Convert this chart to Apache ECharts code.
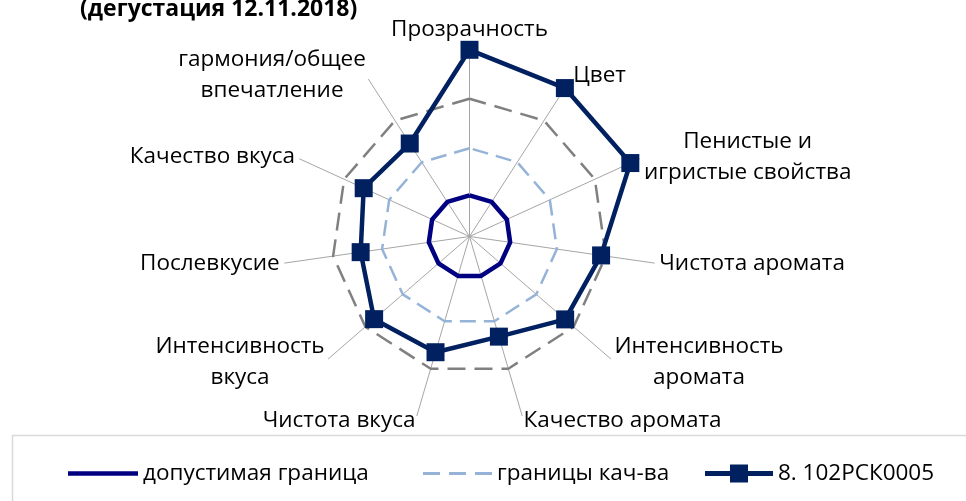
<!DOCTYPE html>
<html><head><meta charset="utf-8">
<script src="https://cdn.jsdelivr.net/npm/echarts@6/dist/echarts.min.js"></script>
<style>html,body{margin:0;padding:0;background:#fff}#c{width:966px;height:501px}</style>
</head><body><div id="c"></div>
<script>
var categories = ['Прозрачность','Цвет','Пенистые и\nигристые свойства','Чистота аромата','Интенсивность\nаромата','Качество аромата','Чистота вкуса','Интенсивность\nвкуса','Послевкусие','Качество вкуса','гармония/общее\nвпечатление'];
var axisMax = 10;
var limitValues   = [2.2, 2.2, 2.2, 2.2, 2.2, 2.2, 2.2, 2.2, 2.2, 2.2, 2.2];
var qualityValues = [4.73, 4.73, 4.73, 4.73, 4.73, 4.73, 4.73, 4.73, 4.73, 4.73, 4.73];
var upperValues   = [7.38, 7.38, 7.38, 7.38, 7.38, 7.38, 7.38, 7.38, 7.38, 7.38, 7.38];
var sampleValues  = [10, 9.45, 9.47, 7.12, 6.78, 5.59, 6.46, 6.76, 5.89, 6.23, 5.92];
var seriesNames = ['допустимая граница', 'границы кач-ва', 'верхняя граница', '8. 102РСК0005'];
var titleText = '(дегустация 12.11.2018)';

// ECharts places indicators counter-clockwise; reorder so they run clockwise
function cw(arr){ return [arr[0]].concat(arr.slice(1).reverse()); }

var FONT = 'Open Sans';
var FS = 22.5;
var chart = echarts.init(document.getElementById('c'), null, {renderer:'canvas'});
var legendText = {fontFamily: FONT, fontSize: FS, color: '#000'};
var option = {
  backgroundColor: '#ffffff',
  animation: false,
  title: {
    text: titleText, left: 75, top: -7,
    textStyle: {fontFamily: FONT, fontWeight: 'bold', fontSize: 23, color: '#000'}
  },
  graphic: [{
    type: 'rect', left: 10, top: 433, shape: {width: 990, height: 100},
    style: {fill: 'none', stroke: '#D9D9D9', lineWidth: 1.5}
  }],
  legend: [
    {data: [{name: seriesNames[0], icon: 'path://M0,0H70V4.5H0Z', itemStyle:{color:'#000080'}}],
     left: 63, top: 457, itemWidth: 70, itemHeight: 4.5, textStyle: legendText},
    {data: [{name: seriesNames[1], icon: 'path://M0,0H17V3H0ZM26,0H43V3H26ZM52,0H69V3H52Z', itemStyle:{color:'#95B3D7'}}],
     left: 418, top: 457, itemWidth: 69, itemHeight: 3, textStyle: legendText},
    {data: [{name: seriesNames[3], icon: 'path://M0,6.5H25V0H43V6.5H68V11.5H43V18H25V11.5H0Z', itemStyle:{color:'#002060'}}],
     left: 700, top: 457, itemWidth: 68, itemHeight: 18, textStyle: legendText}
  ],
  radar: {
    center: [469.5, 236.5],
    radius: 186.7,
    startAngle: 90,
    shape: 'polygon',
    splitNumber: 5,
    indicator: cw(categories).map(function(n){ return {name: n, max: axisMax, min: 0}; }),
    nameGap: 5,
    axisName: {
      color: '#000', fontFamily: FONT, fontSize: FS, lineHeight: 31,
      formatter: function(name){
        return name.split('\n').map(function(l){ return '{c|' + l + '}'; }).join('\n');
      },
      rich: {
        c: {align: 'center', fontFamily: FONT, fontSize: FS, lineHeight: 31, color: '#000'}
      }
    },
    axisLine: {lineStyle: {color: '#A6A6A6', width: 1}},
    splitLine: {show: false},
    splitArea: {show: false},
    axisTick: {show: false},
    axisLabel: {show: false}
  },
  series: [{
    type: 'radar',
    silent: true,
    data: [
      {name: seriesNames[0], value: cw(limitValues), symbol: 'none',
       lineStyle: {color: '#000080', width: 4.5}, itemStyle: {color: '#000080'}},
      {name: seriesNames[1], value: cw(qualityValues), symbol: 'none',
       lineStyle: {color: '#95B3D7', width: 2.5, type: [16, 8]}, itemStyle: {color: '#95B3D7'}},
      {name: seriesNames[2], value: cw(upperValues), symbol: 'none',
       lineStyle: {color: '#808080', width: 2.5, type: [18, 9]}, itemStyle: {color: '#808080'}},
      {name: seriesNames[3], value: cw(sampleValues), symbol: 'rect', symbolSize: 18,
       lineStyle: {color: '#002060', width: 4.5}, itemStyle: {color: '#002060', opacity: 1}}
    ]
  }]
};
chart.setOption(option);
</script></body></html>
